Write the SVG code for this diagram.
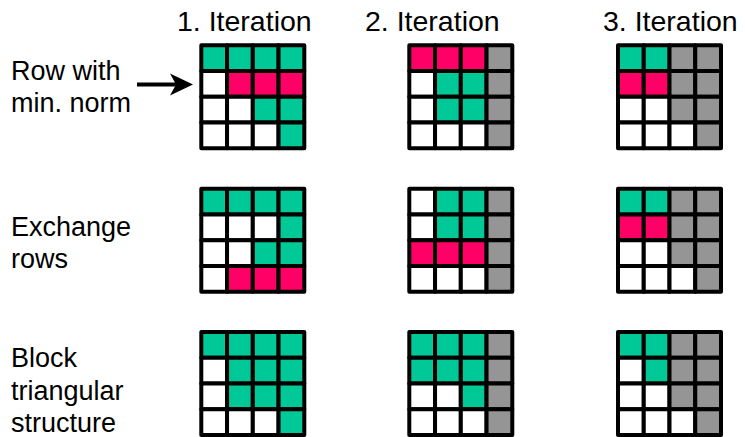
<svg xmlns="http://www.w3.org/2000/svg" width="745" height="437" viewBox="0 0 745 437">
<style>
text{font-family:"Liberation Sans",Arial,sans-serif;fill:#000}
.h{font-size:28.5px}
.l{font-size:27px}
rect{stroke:#000;stroke-width:4;stroke-linejoin:round}
.G{fill:#00c896}.P{fill:#ff0066}.W{fill:#fff}.X{fill:#959595}
</style>
<defs>
<marker id="ah" markerUnits="userSpaceOnUse" markerWidth="24" markerHeight="24" refX="16" refY="12" orient="auto">
<path d="M23,12 L0,1 L6,12 L0,23 Z" fill="#000"/>
</marker>
</defs>
<rect x="0" y="0" width="745" height="437" style="fill:#fff;stroke:none"/>
<g id="headers">
<text class="h" x="177" y="31">1. Iteration</text>
<text class="h" x="365" y="31">2. Iteration</text>
<text class="h" x="603" y="31">3. Iteration</text>
</g>
<g id="labels">
<text class="l" x="11" y="80">Row with</text>
<text class="l" x="11" y="112">min. norm</text>
<text class="l" x="11" y="236">Exchange</text>
<text class="l" x="11" y="268">rows</text>
<text class="l" x="11" y="367">Block</text>
<text class="l" x="11" y="399.5">triangular</text>
<text class="l" x="11" y="432">structure</text>
</g>
<g id="connectors">
<line x1="137" y1="84.5" x2="186" y2="84.5" stroke="#000" stroke-width="4" marker-end="url(#ah)"/>
</g>
<!-- Row 1 -->
<g id="g11" transform="translate(201.3,45.3)">
<rect class="G" x="0" y="0" width="25.75" height="25.75"/><rect class="G" x="25.75" y="0" width="25.75" height="25.75"/><rect class="G" x="51.5" y="0" width="25.75" height="25.75"/><rect class="G" x="77.25" y="0" width="25.75" height="25.75"/>
<rect class="W" x="0" y="25.75" width="25.75" height="25.75"/><rect class="P" x="25.75" y="25.75" width="25.75" height="25.75"/><rect class="P" x="51.5" y="25.75" width="25.75" height="25.75"/><rect class="P" x="77.25" y="25.75" width="25.75" height="25.75"/>
<rect class="W" x="0" y="51.5" width="25.75" height="25.75"/><rect class="W" x="25.75" y="51.5" width="25.75" height="25.75"/><rect class="G" x="51.5" y="51.5" width="25.75" height="25.75"/><rect class="G" x="77.25" y="51.5" width="25.75" height="25.75"/>
<rect class="W" x="0" y="77.25" width="25.75" height="25.75"/><rect class="W" x="25.75" y="77.25" width="25.75" height="25.75"/><rect class="W" x="51.5" y="77.25" width="25.75" height="25.75"/><rect class="G" x="77.25" y="77.25" width="25.75" height="25.75"/>
</g>
<g id="g12" transform="translate(409.3,45.3)">
<rect class="P" x="0" y="0" width="25.75" height="25.75"/><rect class="P" x="25.75" y="0" width="25.75" height="25.75"/><rect class="P" x="51.5" y="0" width="25.75" height="25.75"/><rect class="X" x="77.25" y="0" width="25.75" height="25.75"/>
<rect class="W" x="0" y="25.75" width="25.75" height="25.75"/><rect class="G" x="25.75" y="25.75" width="25.75" height="25.75"/><rect class="G" x="51.5" y="25.75" width="25.75" height="25.75"/><rect class="X" x="77.25" y="25.75" width="25.75" height="25.75"/>
<rect class="W" x="0" y="51.5" width="25.75" height="25.75"/><rect class="G" x="25.75" y="51.5" width="25.75" height="25.75"/><rect class="G" x="51.5" y="51.5" width="25.75" height="25.75"/><rect class="X" x="77.25" y="51.5" width="25.75" height="25.75"/>
<rect class="W" x="0" y="77.25" width="25.75" height="25.75"/><rect class="W" x="25.75" y="77.25" width="25.75" height="25.75"/><rect class="W" x="51.5" y="77.25" width="25.75" height="25.75"/><rect class="X" x="77.25" y="77.25" width="25.75" height="25.75"/>
</g>
<g id="g13" transform="translate(618,45.3)">
<rect class="G" x="0" y="0" width="25.75" height="25.75"/><rect class="G" x="25.75" y="0" width="25.75" height="25.75"/><rect class="X" x="51.5" y="0" width="25.75" height="25.75"/><rect class="X" x="77.25" y="0" width="25.75" height="25.75"/>
<rect class="P" x="0" y="25.75" width="25.75" height="25.75"/><rect class="P" x="25.75" y="25.75" width="25.75" height="25.75"/><rect class="X" x="51.5" y="25.75" width="25.75" height="25.75"/><rect class="X" x="77.25" y="25.75" width="25.75" height="25.75"/>
<rect class="W" x="0" y="51.5" width="25.75" height="25.75"/><rect class="W" x="25.75" y="51.5" width="25.75" height="25.75"/><rect class="X" x="51.5" y="51.5" width="25.75" height="25.75"/><rect class="X" x="77.25" y="51.5" width="25.75" height="25.75"/>
<rect class="W" x="0" y="77.25" width="25.75" height="25.75"/><rect class="W" x="25.75" y="77.25" width="25.75" height="25.75"/><rect class="W" x="51.5" y="77.25" width="25.75" height="25.75"/><rect class="X" x="77.25" y="77.25" width="25.75" height="25.75"/>
</g>
<!-- Row 2 -->
<g id="g21" transform="translate(201.3,188.7)">
<rect class="G" x="0" y="0" width="25.75" height="25.75"/><rect class="G" x="25.75" y="0" width="25.75" height="25.75"/><rect class="G" x="51.5" y="0" width="25.75" height="25.75"/><rect class="G" x="77.25" y="0" width="25.75" height="25.75"/>
<rect class="W" x="0" y="25.75" width="25.75" height="25.75"/><rect class="W" x="25.75" y="25.75" width="25.75" height="25.75"/><rect class="W" x="51.5" y="25.75" width="25.75" height="25.75"/><rect class="G" x="77.25" y="25.75" width="25.75" height="25.75"/>
<rect class="W" x="0" y="51.5" width="25.75" height="25.75"/><rect class="W" x="25.75" y="51.5" width="25.75" height="25.75"/><rect class="G" x="51.5" y="51.5" width="25.75" height="25.75"/><rect class="G" x="77.25" y="51.5" width="25.75" height="25.75"/>
<rect class="W" x="0" y="77.25" width="25.75" height="25.75"/><rect class="P" x="25.75" y="77.25" width="25.75" height="25.75"/><rect class="P" x="51.5" y="77.25" width="25.75" height="25.75"/><rect class="P" x="77.25" y="77.25" width="25.75" height="25.75"/>
</g>
<g id="g22" transform="translate(409.3,188.7)">
<rect class="W" x="0" y="0" width="25.75" height="25.75"/><rect class="G" x="25.75" y="0" width="25.75" height="25.75"/><rect class="G" x="51.5" y="0" width="25.75" height="25.75"/><rect class="X" x="77.25" y="0" width="25.75" height="25.75"/>
<rect class="W" x="0" y="25.75" width="25.75" height="25.75"/><rect class="G" x="25.75" y="25.75" width="25.75" height="25.75"/><rect class="G" x="51.5" y="25.75" width="25.75" height="25.75"/><rect class="X" x="77.25" y="25.75" width="25.75" height="25.75"/>
<rect class="P" x="0" y="51.5" width="25.75" height="25.75"/><rect class="P" x="25.75" y="51.5" width="25.75" height="25.75"/><rect class="P" x="51.5" y="51.5" width="25.75" height="25.75"/><rect class="X" x="77.25" y="51.5" width="25.75" height="25.75"/>
<rect class="W" x="0" y="77.25" width="25.75" height="25.75"/><rect class="W" x="25.75" y="77.25" width="25.75" height="25.75"/><rect class="W" x="51.5" y="77.25" width="25.75" height="25.75"/><rect class="X" x="77.25" y="77.25" width="25.75" height="25.75"/>
</g>
<g id="g23" transform="translate(618,188.7)">
<rect class="G" x="0" y="0" width="25.75" height="25.75"/><rect class="G" x="25.75" y="0" width="25.75" height="25.75"/><rect class="X" x="51.5" y="0" width="25.75" height="25.75"/><rect class="X" x="77.25" y="0" width="25.75" height="25.75"/>
<rect class="P" x="0" y="25.75" width="25.75" height="25.75"/><rect class="P" x="25.75" y="25.75" width="25.75" height="25.75"/><rect class="X" x="51.5" y="25.75" width="25.75" height="25.75"/><rect class="X" x="77.25" y="25.75" width="25.75" height="25.75"/>
<rect class="W" x="0" y="51.5" width="25.75" height="25.75"/><rect class="W" x="25.75" y="51.5" width="25.75" height="25.75"/><rect class="X" x="51.5" y="51.5" width="25.75" height="25.75"/><rect class="X" x="77.25" y="51.5" width="25.75" height="25.75"/>
<rect class="W" x="0" y="77.25" width="25.75" height="25.75"/><rect class="W" x="25.75" y="77.25" width="25.75" height="25.75"/><rect class="W" x="51.5" y="77.25" width="25.75" height="25.75"/><rect class="X" x="77.25" y="77.25" width="25.75" height="25.75"/>
</g>
<!-- Row 3 -->
<g id="g31" transform="translate(201.3,332)">
<rect class="G" x="0" y="0" width="25.75" height="25.75"/><rect class="G" x="25.75" y="0" width="25.75" height="25.75"/><rect class="G" x="51.5" y="0" width="25.75" height="25.75"/><rect class="G" x="77.25" y="0" width="25.75" height="25.75"/>
<rect class="W" x="0" y="25.75" width="25.75" height="25.75"/><rect class="G" x="25.75" y="25.75" width="25.75" height="25.75"/><rect class="G" x="51.5" y="25.75" width="25.75" height="25.75"/><rect class="G" x="77.25" y="25.75" width="25.75" height="25.75"/>
<rect class="W" x="0" y="51.5" width="25.75" height="25.75"/><rect class="G" x="25.75" y="51.5" width="25.75" height="25.75"/><rect class="G" x="51.5" y="51.5" width="25.75" height="25.75"/><rect class="G" x="77.25" y="51.5" width="25.75" height="25.75"/>
<rect class="W" x="0" y="77.25" width="25.75" height="25.75"/><rect class="W" x="25.75" y="77.25" width="25.75" height="25.75"/><rect class="W" x="51.5" y="77.25" width="25.75" height="25.75"/><rect class="G" x="77.25" y="77.25" width="25.75" height="25.75"/>
</g>
<g id="g32" transform="translate(409.3,332)">
<rect class="G" x="0" y="0" width="25.75" height="25.75"/><rect class="G" x="25.75" y="0" width="25.75" height="25.75"/><rect class="G" x="51.5" y="0" width="25.75" height="25.75"/><rect class="X" x="77.25" y="0" width="25.75" height="25.75"/>
<rect class="G" x="0" y="25.75" width="25.75" height="25.75"/><rect class="G" x="25.75" y="25.75" width="25.75" height="25.75"/><rect class="G" x="51.5" y="25.75" width="25.75" height="25.75"/><rect class="X" x="77.25" y="25.75" width="25.75" height="25.75"/>
<rect class="W" x="0" y="51.5" width="25.75" height="25.75"/><rect class="W" x="25.75" y="51.5" width="25.75" height="25.75"/><rect class="G" x="51.5" y="51.5" width="25.75" height="25.75"/><rect class="X" x="77.25" y="51.5" width="25.75" height="25.75"/>
<rect class="W" x="0" y="77.25" width="25.75" height="25.75"/><rect class="W" x="25.75" y="77.25" width="25.75" height="25.75"/><rect class="W" x="51.5" y="77.25" width="25.75" height="25.75"/><rect class="X" x="77.25" y="77.25" width="25.75" height="25.75"/>
</g>
<g id="g33" transform="translate(618,332)">
<rect class="G" x="0" y="0" width="25.75" height="25.75"/><rect class="G" x="25.75" y="0" width="25.75" height="25.75"/><rect class="X" x="51.5" y="0" width="25.75" height="25.75"/><rect class="X" x="77.25" y="0" width="25.75" height="25.75"/>
<rect class="W" x="0" y="25.75" width="25.75" height="25.75"/><rect class="G" x="25.75" y="25.75" width="25.75" height="25.75"/><rect class="X" x="51.5" y="25.75" width="25.75" height="25.75"/><rect class="X" x="77.25" y="25.75" width="25.75" height="25.75"/>
<rect class="W" x="0" y="51.5" width="25.75" height="25.75"/><rect class="W" x="25.75" y="51.5" width="25.75" height="25.75"/><rect class="X" x="51.5" y="51.5" width="25.75" height="25.75"/><rect class="X" x="77.25" y="51.5" width="25.75" height="25.75"/>
<rect class="W" x="0" y="77.25" width="25.75" height="25.75"/><rect class="W" x="25.75" y="77.25" width="25.75" height="25.75"/><rect class="W" x="51.5" y="77.25" width="25.75" height="25.75"/><rect class="X" x="77.25" y="77.25" width="25.75" height="25.75"/>
</g>
</svg>
